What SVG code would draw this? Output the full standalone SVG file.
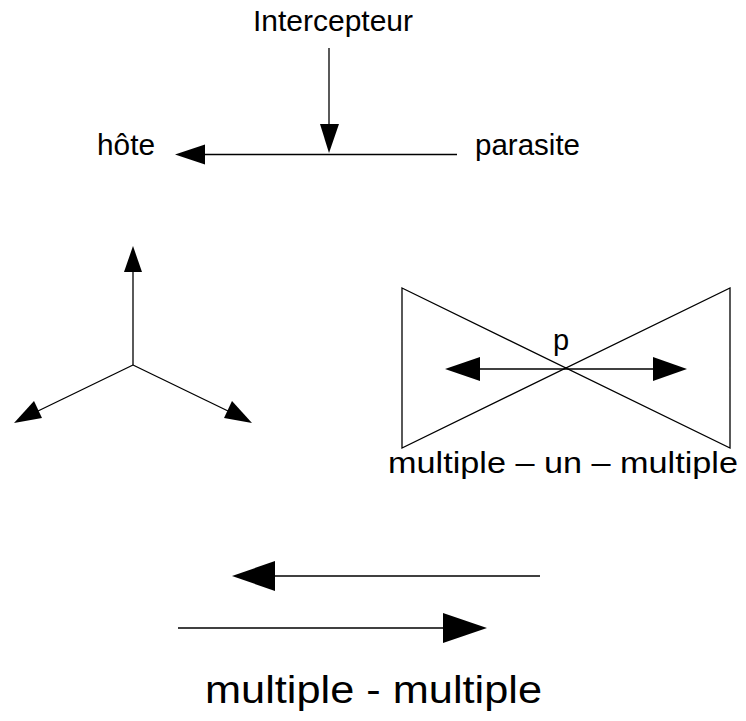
<svg xmlns="http://www.w3.org/2000/svg" width="746" height="721" viewBox="0 0 746 721">
<style>
.ln{stroke:#000;stroke-width:1.3;fill:none}
.ah{fill:#000;stroke:none}
.t{font-family:"Liberation Sans",Arial,sans-serif;fill:#000}
</style>
<rect width="746" height="721" fill="#fff"/>
<g id="connectors">
  <line class="ln" x1="329" y1="48" x2="329" y2="126"/>
  <polygon class="ah" points="320,124 339,124 329,153"/>
  <line class="ln" x1="203" y1="154.5" x2="457" y2="154.5"/>
  <polygon class="ah" points="175,154.5 205,144.5 205,164.5"/>
  <line class="ln" x1="133" y1="365" x2="133" y2="270"/>
  <polygon class="ah" points="133,246 124,272 142,272"/>
  <line class="ln" x1="133" y1="365" x2="38" y2="411"/>
  <polygon class="ah" points="14,423 34,401 42,418"/>
  <line class="ln" x1="133" y1="365" x2="228" y2="411"/>
  <polygon class="ah" points="252,423 224,418 232,401"/>
  <line class="ln" x1="478" y1="369" x2="655" y2="369"/>
  <polygon class="ah" points="445,369 480,357 480,381"/>
  <polygon class="ah" points="687,369 653,357 653,381"/>
  <line class="ln" x1="273" y1="576" x2="540" y2="576"/>
  <polygon class="ah" points="232,576 275,561 275,591"/>
  <line class="ln" x1="178" y1="628" x2="445" y2="628"/>
  <polygon class="ah" points="487,628 443,613 443,643"/>
</g>
<g id="bowtie">
  <polygon class="ln" points="402,288 730,448 730,288 402,448"/>
</g>
<g id="intercepteur"><text class="t" x="253" y="31" font-size="29" textLength="160" lengthAdjust="spacingAndGlyphs">Intercepteur</text></g>
<g id="hote"><text class="t" x="97" y="155" font-size="29" textLength="58" lengthAdjust="spacingAndGlyphs">hôte</text></g>
<g id="parasite"><text class="t" x="475" y="155" font-size="29" textLength="105" lengthAdjust="spacingAndGlyphs">parasite</text></g>
<g id="p-label"><text class="t" x="553" y="350" font-size="29">p</text></g>
<g id="multiple-un-multiple"><text class="t" x="388" y="473" font-size="30" textLength="350" lengthAdjust="spacingAndGlyphs">multiple – un – multiple</text></g>
<g id="multiple-multiple"><text class="t" x="205" y="703" font-size="39" textLength="337" lengthAdjust="spacingAndGlyphs">multiple - multiple</text></g>
</svg>
